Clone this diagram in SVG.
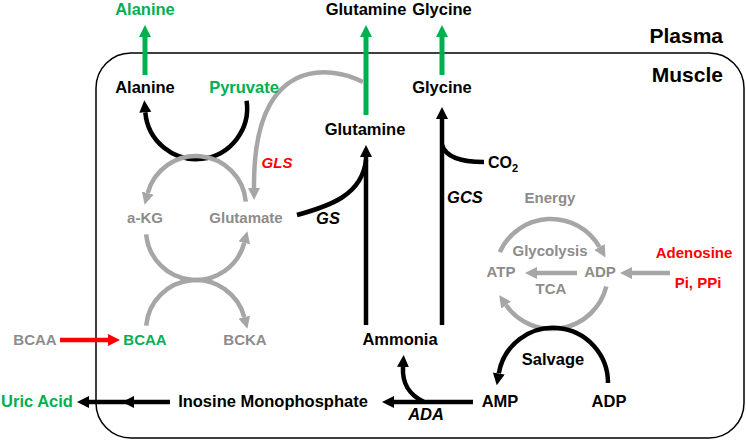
<svg xmlns="http://www.w3.org/2000/svg" width="746" height="440" viewBox="0 0 746 440">
<style>
text{font-family:"Liberation Sans",Arial,sans-serif;font-weight:bold;text-anchor:middle}
.k{fill:#000;font-size:16.5px}
.g{fill:#00b050;font-size:16.5px}
.gs{fill:#00b050;font-size:15px}
.y{fill:#8c8c8c;font-size:15px}
.r{fill:#ff0000;font-size:15px}
.i{font-style:italic}
.big{font-size:21px;text-anchor:end}
.lk{fill:none;stroke:#000;stroke-width:4.5}
.ly{fill:none;stroke:#a6a6a6;stroke-width:4.5}
.lg{fill:none;stroke:#00b050;stroke-width:5}
.lr{fill:none;stroke:#ff0000;stroke-width:4.5}
</style>
<defs>
<marker id="mk" markerUnits="userSpaceOnUse" markerWidth="13" markerHeight="13" refX="0" refY="6" orient="auto"><path d="M0,0 L12,6 L0,12 z" fill="#000"/></marker>
<marker id="my" markerUnits="userSpaceOnUse" markerWidth="13" markerHeight="13" refX="0" refY="6" orient="auto"><path d="M0,0 L12,6 L0,12 z" fill="#a6a6a6"/></marker>
<marker id="mg" markerUnits="userSpaceOnUse" markerWidth="13" markerHeight="13" refX="0" refY="6" orient="auto"><path d="M0,0 L12,6 L0,12 z" fill="#00b050"/></marker>
<marker id="mr" markerUnits="userSpaceOnUse" markerWidth="13" markerHeight="13" refX="0" refY="6" orient="auto"><path d="M0,0 L12,6 L0,12 z" fill="#ff0000"/></marker>
</defs>
<rect id="muscle" x="96" y="53" width="648" height="385" rx="35" ry="35" fill="none" stroke="#000" stroke-width="1.5"/>
<g id="region-labels">
<text class="k big" x="723" y="43">Plasma</text>
<text class="k big" x="723" y="82">Muscle</text>
</g>
<g id="connectors">
<path class="lg" d="M145,75 L145,37" marker-end="url(#mg)"/>
<path class="lg" d="M366,115 L366,37" marker-end="url(#mg)"/>
<path class="lg" d="M442,75 L442,37" marker-end="url(#mg)"/>
<path class="lk" d="M246.6,100.8 A51,51 0 1 1 145.3,112.3" marker-end="url(#mk)"/>
<path class="ly" d="M245.8,201.6 A50,50 0 0 0 147.7,193.1" marker-end="url(#my)"/>
<path class="ly" d="M146.2,234.4 A50,50 0 0 0 244.3,242.9" marker-end="url(#my)"/>
<path class="ly" d="M146.2,325.6 A50,50 0 0 1 244.3,317.1" marker-end="url(#my)"/>
<path class="ly" d="M363,82 C330,65 253,55 254,188" marker-end="url(#my)"/>
<path class="lk" d="M297,215 C330,206 362,195 366,160"/>
<path class="lk" d="M366,325 L366,157" marker-end="url(#mk)"/>
<path class="lk" d="M442,325 L442,119" marker-end="url(#mk)"/>
<path class="lk" d="M442,145 C446,158 462,162 484,162"/>
<path class="ly" d="M499.8,252.2 A56,56 0 0 1 599.5,247" marker-end="url(#my)"/>
<path class="ly" d="M606.3,286.5 A56,56 0 0 1 506.1,305.1" marker-end="url(#my)"/>
<path class="ly" d="M577,273 L537,273" marker-end="url(#my)"/>
<path class="ly" d="M670,273 L632,273" marker-end="url(#my)"/>
<path class="lk" d="M608,383 A55,55 0 0 0 498.8,373.4" marker-end="url(#mk)"/>
<path class="lk" d="M473,402 L394,402" marker-end="url(#mk)"/>
<path class="lk" d="M424,402 C410,395 402,385 403,367" marker-end="url(#mk)"/>
<path class="lk" d="M170,402 L134,402 L89,402" marker-mid="url(#mk)" marker-end="url(#mk)"/>
<path class="lr" d="M60,340 L108,340" marker-end="url(#mr)"/>
</g>
<g id="plasma-alanine"><text class="g" x="145" y="15">Alanine</text></g>
<g id="plasma-glutamine"><text class="k" x="366" y="15">Glutamine</text></g>
<g id="plasma-glycine"><text class="k" x="442" y="15">Glycine</text></g>
<g id="alanine"><text class="k" x="145" y="93">Alanine</text></g>
<g id="pyruvate"><text class="g" x="244" y="93">Pyruvate</text></g>
<g id="glutamine"><text class="k" x="365" y="135">Glutamine</text></g>
<g id="glycine"><text class="k" x="442" y="93">Glycine</text></g>
<g id="gls"><text class="r i" x="277" y="168">GLS</text></g>
<g id="co2"><text class="k" x="488" y="168" style="text-anchor:start;font-size:16px">CO<tspan font-size="11" dy="4">2</tspan></text></g>
<g id="akg"><text class="y" x="145" y="223">a-KG</text></g>
<g id="glutamate"><text class="y" x="246" y="223">Glutamate</text></g>
<g id="gs"><text class="k i" x="328" y="224">GS</text></g>
<g id="gcs"><text class="k i" x="465" y="203">GCS</text></g>
<g id="energy"><text class="y" x="550" y="203">Energy</text></g>
<g id="glycolysis"><text class="y" x="550" y="256">Glycolysis</text></g>
<g id="atp"><text class="y" x="501" y="277">ATP</text></g>
<g id="adp-gray"><text class="y" x="600" y="277">ADP</text></g>
<g id="tca"><text class="y" x="551" y="294">TCA</text></g>
<g id="adenosine"><text class="r" x="694" y="258">Adenosine</text></g>
<g id="pi-ppi"><text class="r" x="698" y="288">Pi, PPi</text></g>
<g id="bcaa-plasma"><text class="y" x="35" y="345">BCAA</text></g>
<g id="bcaa"><text class="gs" x="145" y="345">BCAA</text></g>
<g id="bcka"><text class="y" x="245" y="345">BCKA</text></g>
<g id="ammonia"><text class="k" x="400" y="345">Ammonia</text></g>
<g id="salvage"><text class="k" x="553" y="365">Salvage</text></g>
<g id="uric-acid"><text class="g" x="37" y="407">Uric Acid</text></g>
<g id="imp"><text class="k" x="273" y="407">Inosine Monophosphate</text></g>
<g id="amp"><text class="k" x="500" y="407">AMP</text></g>
<g id="adp"><text class="k" x="609" y="407">ADP</text></g>
<g id="ada"><text class="k i" x="426" y="420">ADA</text></g>
</svg>
